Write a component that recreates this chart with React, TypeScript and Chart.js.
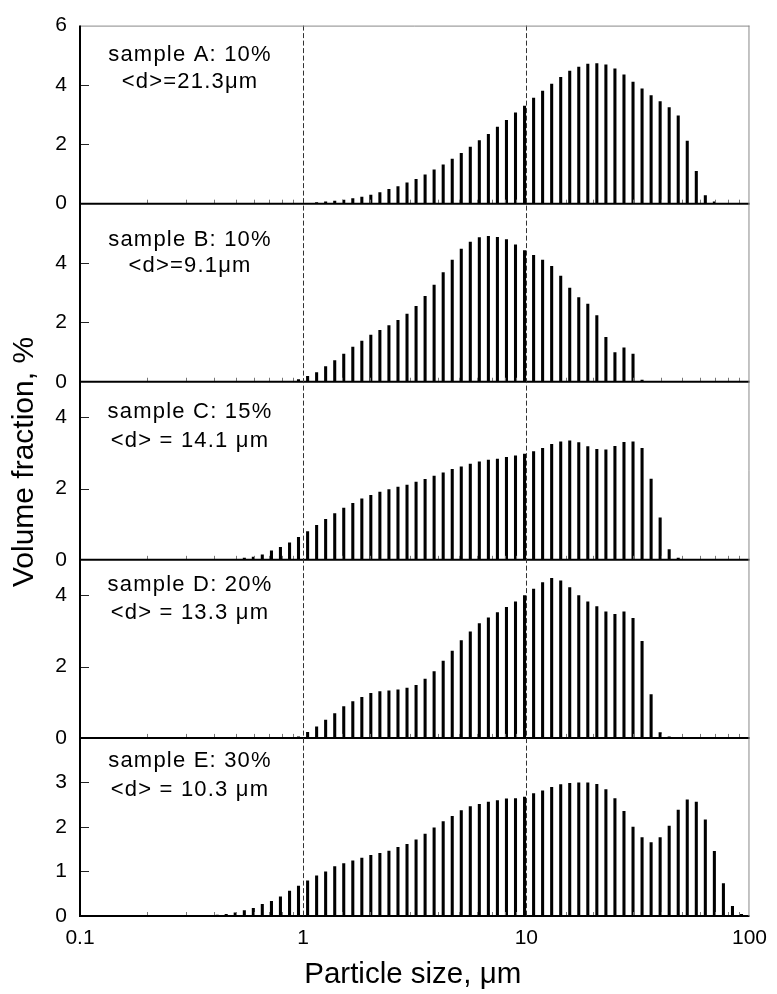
import React, { useEffect, useRef } from 'react';
import { Chart, registerables } from 'chart.js';

Chart.register(...registerables);

// Channel sizes (μm) of the particle size analyser
const sizes = [
  0.375, 0.412, 0.452, 0.496, 0.545, 0.598, 0.656, 0.721, 0.791, 0.869,
  0.953, 1.047, 1.149, 1.261, 1.385, 1.52, 1.669, 1.832, 2.01, 2.207,
  2.423, 2.66, 2.92, 3.206, 3.519, 3.862, 4.241, 4.656, 5.111, 5.61,
  6.158, 6.761, 7.421, 8.147, 8.944, 9.819, 10.78, 11.83, 12.99, 14.26,
  15.65, 17.18, 18.86, 20.7, 22.73, 24.95, 27.39, 30.07, 33.01, 36.24,
  39.78, 43.67, 47.94, 52.62, 57.77, 63.41, 69.61, 76.42, 83.9, 92.1,
];

const sampleA = [
  0, 0, 0, 0, 0, 0, 0, 0, 0, 0,
  0, 0, 0.04, 0.06, 0.09, 0.12, 0.17, 0.22, 0.29, 0.37,
  0.48, 0.58, 0.7, 0.82, 0.97, 1.14, 1.31, 1.5, 1.7, 1.91,
  2.13, 2.34, 2.58, 2.81, 3.06, 3.29, 3.56, 3.79, 4.03, 4.26,
  4.47, 4.6, 4.7, 4.72, 4.68, 4.54, 4.34, 4.1, 3.87, 3.64,
  3.44, 3.24, 2.96, 2.11, 1.09, 0.27, 0.06, 0, 0, 0,
];

const sampleB = [
  0, 0, 0, 0, 0, 0, 0, 0, 0, 0,
  0.07, 0.18, 0.31, 0.51, 0.71, 0.93, 1.17, 1.37, 1.57, 1.73,
  1.89, 2.07, 2.28, 2.54, 2.88, 3.26, 3.68, 4.1, 4.47, 4.71,
  4.86, 4.9, 4.87, 4.79, 4.61, 4.42, 4.26, 4.1, 3.89, 3.56,
  3.16, 2.84, 2.62, 2.23, 1.5, 0.98, 1.14, 0.93, 0.06, 0,
  0, 0, 0, 0, 0, 0, 0, 0, 0, 0,
];

const sampleC = [
  0, 0, 0, 0, 0.05, 0.08, 0.14, 0.25, 0.35, 0.48,
  0.63, 0.79, 0.97, 1.14, 1.3, 1.45, 1.59, 1.71, 1.81, 1.9,
  1.97, 2.04, 2.1, 2.18, 2.26, 2.35, 2.44, 2.54, 2.61, 2.69,
  2.75, 2.8, 2.83, 2.88, 2.92, 2.97, 3.04, 3.13, 3.24, 3.31,
  3.34, 3.29, 3.18, 3.1, 3.09, 3.19, 3.3, 3.31, 3.13, 2.27,
  1.18, 0.29, 0.05, 0, 0, 0, 0, 0, 0, 0,
];

const sampleD = [
  0, 0, 0, 0, 0, 0, 0, 0, 0, 0,
  0.03, 0.16, 0.31, 0.5, 0.68, 0.88, 1.02, 1.14, 1.25, 1.3,
  1.32, 1.35, 1.4, 1.48, 1.65, 1.86, 2.16, 2.44, 2.73, 2.98,
  3.21, 3.37, 3.52, 3.67, 3.82, 4.0, 4.18, 4.36, 4.48, 4.41,
  4.22, 4.0, 3.82, 3.69, 3.54, 3.47, 3.54, 3.36, 2.71, 1.22,
  0.15, 0.03, 0, 0, 0, 0, 0, 0, 0, 0,
];

const sampleE = [
  0.01, 0.02, 0.04, 0.07, 0.12, 0.17, 0.26, 0.33, 0.43, 0.56,
  0.67, 0.79, 0.9, 0.99, 1.11, 1.18, 1.24, 1.3, 1.36, 1.41,
  1.46, 1.54, 1.61, 1.71, 1.84, 1.98, 2.12, 2.24, 2.37, 2.46,
  2.51, 2.56, 2.59, 2.63, 2.64, 2.67, 2.75, 2.81, 2.89, 2.95,
  2.98, 2.99, 2.99, 2.96, 2.84, 2.64, 2.35, 2.0, 1.76, 1.65,
  1.76, 2.02, 2.38, 2.61, 2.56, 2.16, 1.45, 0.73, 0.22, 0.04,
];

const panelIds = ['yA', 'yB', 'yC', 'yD', 'yE'];
const panelSeries = [sampleA, sampleB, sampleC, sampleD, sampleE];
const panelMax = [6, 6, 5, 5, 4];
const panelStep = [2, 2, 2, 2, 1];
const panelLine1 = ['sample A: 10%', 'sample B: 10%', 'sample C: 15%', 'sample D: 20%', 'sample E: 30%'];
const panelLine2 = ['<d>=21.3μm', '<d>=9.1μm', '<d> = 14.1 μm', '<d> = 13.3 μm', '<d> = 10.3 μm'];
const xMajorTicks = [0.1, 1, 10, 100];
const dashedAt = [1, 10];
const xTitle = 'Particle size, μm';
const yTitle = 'Volume fraction, %';

// layout only (not data): baseline offsets of the two annotation lines from panel top
const labelLayout = [
  [35, 62],
  [42, 68],
  [36, 65],
  [31, 59],
  [29, 58],
];

const FONT = '"Liberation Sans", Arial, Helvetica, sans-serif';

const isMajor = (v: number) => {
  const l = Math.log10(v);
  return Math.abs(l - Math.round(l)) < 1e-6;
};

const framePlugin = {
  id: 'framePlugin',
  afterDraw(chart: any) {
    const ctx = chart.ctx as CanvasRenderingContext2D;
    const { left, right, top, bottom } = chart.chartArea;
    const xs = chart.scales.x;
    ctx.save();

    panelIds.forEach((id, i) => {
      const s = chart.scales[id];
      // minor x ticks pointing up from the panel's zero line
      ctx.strokeStyle = '#777';
      ctx.lineWidth = 1;
      xs.ticks.forEach((t: any) => {
        if (isMajor(t.value)) return;
        const px = Math.round(xs.getPixelForValue(t.value)) + 0.5;
        ctx.beginPath();
        ctx.moveTo(px, s.bottom);
        ctx.lineTo(px, s.bottom - 4);
        ctx.stroke();
      });
      // y ticks pointing inwards
      ctx.strokeStyle = '#222';
      s.ticks.forEach((t: any) => {
        if (t.value <= s.min || t.value >= s.max) return;
        const py = Math.round(s.getPixelForValue(t.value)) + 0.5;
        ctx.beginPath();
        ctx.moveTo(left, py);
        ctx.lineTo(left + 9, py);
        ctx.stroke();
      });
      // zero line
      ctx.strokeStyle = '#000';
      ctx.lineWidth = 2;
      ctx.beginPath();
      ctx.moveTo(left, s.bottom);
      ctx.lineTo(right, s.bottom);
      ctx.stroke();

      // annotation
      ctx.fillStyle = '#000';
      ctx.font = `22px ${FONT}`;
      (ctx as any).letterSpacing = '1.2px';
      ctx.textAlign = 'center';
      ctx.textBaseline = 'alphabetic';
      const cx = left + 110;
      ctx.fillText(panelLine1[i], cx, s.top + labelLayout[i][0]);
      ctx.fillText(panelLine2[i], cx, s.top + labelLayout[i][1]);
      (ctx as any).letterSpacing = '0px';
    });

    // dashed reference lines
    ctx.strokeStyle = '#333';
    ctx.lineWidth = 1;
    ctx.setLineDash([5, 2.5]);
    dashedAt.forEach((v) => {
      const px = Math.round(xs.getPixelForValue(v)) + 0.5;
      ctx.beginPath();
      ctx.moveTo(px, top);
      ctx.lineTo(px, bottom);
      ctx.stroke();
    });
    ctx.setLineDash([]);

    // frame
    ctx.strokeStyle = '#888';
    ctx.lineWidth = 1;
    ctx.beginPath();
    ctx.moveTo(left, top + 0.5);
    ctx.lineTo(right, top + 0.5);
    ctx.moveTo(right - 0.5, top);
    ctx.lineTo(right - 0.5, bottom);
    ctx.stroke();
    ctx.strokeStyle = '#000';
    ctx.lineWidth = 2;
    ctx.beginPath();
    ctx.moveTo(left, top);
    ctx.lineTo(left, bottom + 1);
    ctx.stroke();

    // titles
    ctx.fillStyle = '#000';
    ctx.textAlign = 'center';
    ctx.textBaseline = 'alphabetic';
    ctx.font = `29.5px ${FONT}`;
    ctx.fillText(xTitle, (left + right) / 2 - 2, 983);
    ctx.font = `30px ${FONT}`;
    ctx.save();
    ctx.translate(33, 462);
    ctx.rotate(-Math.PI / 2);
    ctx.fillText(yTitle, 0, 0);
    ctx.restore();

    ctx.restore();
  },
};

export default function App() {
  const ref = useRef<HTMLCanvasElement | null>(null);

  useEffect(() => {
    document.body.style.margin = '0';
    if (!ref.current) return;

    const datasets = panelSeries.map((vals, i) => ({
      label: panelLine1[i],
      data: sizes.map((s, j) => ({ x: s, y: vals[j] })),
      yAxisID: panelIds[i],
      xAxisID: 'x',
      backgroundColor: '#000',
      borderWidth: 0,
      barThickness: 2.4,
      grouped: false,
    }));

    const scales: any = {
      x: {
        type: 'logarithmic',
        min: 0.1,
        max: 100,
        offset: false,
        position: 'bottom',
        grid: { display: false, drawTicks: false },
        border: { display: false },
        afterFit: (s: any) => {
          s.height = 78;
        },
        ticks: {
          autoSkip: false,
          maxRotation: 0,
          padding: 10,
          color: '#000',
          font: { family: FONT, size: 21 },
          callback: (v: any) => {
            const n = Number(v);
            return xMajorTicks.some((m) => Math.abs(m - n) < 1e-9) ? String(n) : '';
          },
        },
      },
    };
    // reversed order so that panel A sits at the top of the stack
    for (let i = panelIds.length - 1; i >= 0; i--) {
      const max = panelMax[i];
      const isTop = i === 0;
      scales[panelIds[i]] = {
        type: 'linear',
        position: 'left',
        stack: 'panels',
        stackWeight: 1,
        min: 0,
        max,
        grid: { display: false, drawTicks: false },
        border: { display: false },
        afterFit: (s: any) => {
          s.width = 80;
        },
        ticks: {
          stepSize: panelStep[i],
          autoSkip: false,
          padding: 13,
          color: '#000',
          font: { family: FONT, size: 21 },
          callback: (v: any) => (Number(v) === max && !isTop ? '' : String(v)),
        },
      };
    }

    const chart = new Chart(ref.current, {
      type: 'bar',
      data: { datasets },
      options: {
        responsive: false,
        animation: false,
        layout: { padding: { top: 18, right: 22, left: 0, bottom: 0 } },
        plugins: {
          legend: { display: false },
          tooltip: { enabled: false },
          title: { display: false },
        },
        scales,
      },
      plugins: [framePlugin],
    } as any);

    return () => chart.destroy();
  }, []);

  return (
    <div style={{ width: 777, height: 994, background: '#fff' }}>
      <canvas ref={ref} width={777} height={994} style={{ display: 'block' }} />
    </div>
  );
}
